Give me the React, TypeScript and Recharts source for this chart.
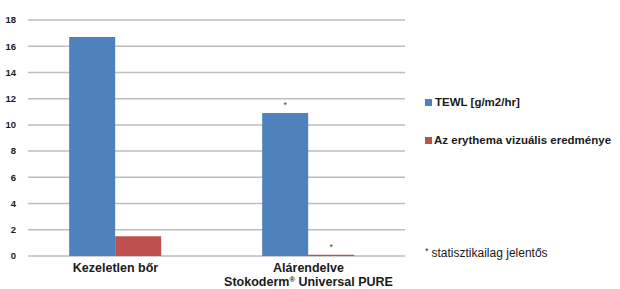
import React from 'react'
import { BarChart, Bar, XAxis, YAxis, CartesianGrid, Legend, LabelList } from 'recharts'

const categories = ['Kezeletlen bőr', 'Alárendelve|Stokoderm®| Universal PURE']
const tewl = [16.7, 10.9]
const erythema = [1.5, 0.1]
const tewlSig = [false, true]
const erythemaSig = [false, true]
const yTicks = [0, 2, 4, 6, 8, 10, 12, 14, 16, 18]

const BLUE = '#4F81BD'
const RED = '#C0504D'
const FONT = '"Liberation Sans", Arial, sans-serif'

const data = categories.map((c, i) => ({
  name: c,
  tewl: tewl[i],
  erythema: erythema[i],
  tewlSig: tewlSig[i],
  erythemaSig: erythemaSig[i],
}))

const CategoryTick = ({ x, y, payload }: any) => {
  const parts = String(payload.value).split('|')
  if (parts.length === 1) {
    return (
      <text x={x} y={y + 8} textAnchor="middle" fontFamily={FONT} fontWeight="bold" fontSize={12.5} fill="#1a1a1a">
        {parts[0]}
      </text>
    )
  }
  return (
    <text x={x} textAnchor="middle" fontFamily={FONT} fontWeight="bold" fontSize={12.5} fill="#1a1a1a">
      <tspan x={x} y={y + 8}>{parts[0]}</tspan>
      <tspan x={x} y={y + 22}>{parts[1].replace('®', '')}</tspan>
      <tspan fontSize={7.5} dy={-4.5}>®</tspan>
      <tspan dy={4.5}>{parts[2]}</tspan>
    </text>
  )
}

const sigLabel = (key: string) => (props: any) => {
  const { x, y, width, index } = props
  if (!data[index] || !(data[index] as any)[key]) return null
  return (
    <text x={x + width / 2} y={y - 5} textAnchor="middle" fontFamily={FONT} fontSize={9} fill="#444">
      *
    </text>
  )
}

const LegendContent = () => (
  <div style={{ fontFamily: FONT, color: '#1a1a1a', width: 200 }}>
    <div style={{ display: 'flex', alignItems: 'center', fontSize: 11.5, fontWeight: 600, height: 14 }}>
      <span style={{ width: 7, height: 7, background: BLUE, marginRight: 3, display: 'inline-block' }} />
      TEWL [g/m2/hr]
    </div>
    <div style={{ display: 'flex', alignItems: 'center', fontSize: 11.5, fontWeight: 'bold', height: 14, marginTop: 24 }}>
      <span style={{ width: 7, height: 7, background: RED, marginRight: 2, display: 'inline-block' }} />
      Az erythema vizuális eredménye
    </div>
    <div style={{ fontSize: 12, marginTop: 99, height: 14, display: 'flex', alignItems: 'center' }}>
      <span style={{ fontSize: 9, marginRight: 3, position: 'relative', top: -2 }}>*</span>
      statisztikailag jelentős
    </div>
  </div>
)

export default function App() {
  return (
    <div style={{ position: 'absolute', left: 0, top: 0, width: 620, height: 289, background: '#fff' }}>
      <BarChart
        width={620}
        height={289}
        data={data}
        margin={{ top: 20, right: 215, bottom: 3, left: 6 }}
        barCategoryGap="26%"
        barGap={0}
      >
        <CartesianGrid horizontal vertical={false} stroke="#BDBDBD" strokeWidth={1.5} />
        <XAxis
          dataKey="name"
          axisLine={false}
          tickLine={false}
          height={30}
          padding={{ left: -9, right: 0 }}
          tick={<CategoryTick />}
          interval={0}
        />
        <YAxis
          domain={[0, 18]}
          ticks={yTicks}
          width={22}
          axisLine={false}
          tickLine={false}
          tick={{ fontFamily: FONT, fontSize: 9.5, fontWeight: 'bold', fill: '#1a1a1a' }}
          tickMargin={6}
        />
        <Legend
          layout="vertical"
          align="center"
          verticalAlign="middle"
          wrapperStyle={{ left: 425, top: 95, width: 200 }}
          content={<LegendContent />}
        />
        <Bar dataKey="tewl" fill={BLUE} isAnimationActive={false}>
          <LabelList dataKey="tewl" content={sigLabel('tewlSig')} />
        </Bar>
        <Bar dataKey="erythema" fill={RED} isAnimationActive={false}>
          <LabelList dataKey="erythema" content={sigLabel('erythemaSig')} />
        </Bar>
      </BarChart>
    </div>
  )
}
